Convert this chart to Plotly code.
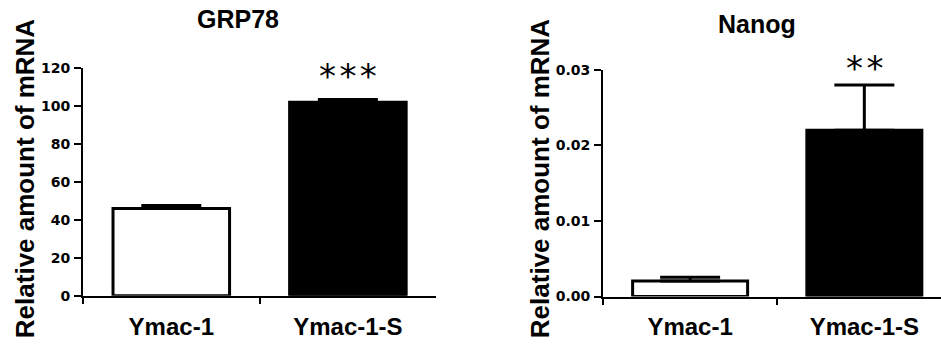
import plotly.graph_objects as go

categories = ["Ymac-1", "Ymac-1-S"]

grp78_values = [45.9, 101.8]
grp78_errors = [1.6, 1.4]

nanog_values = [0.00205, 0.0220]
nanog_errors = [0.00050, 0.0060]

grp78_ticks = [0, 20, 40, 60, 80, 100, 120]
nanog_ticks = [0.00, 0.01, 0.02, 0.03]

titles = ["GRP78", "Nanog"]
ytitle = "Relative amount of mRNA"
sig_labels = ["*\u200a*\u200a*", "*\u200a*"]
sig_y = [115.5, 0.0303]

W, H = 941, 345
# the captured page comes out slightly squeezed vertically; compensate
VSCALE = 0.975
BAR_COLORS = ["white", "black"]
ARIAL = "Liberation Sans, Arial, sans-serif"
LABEL_FONT = dict(family=ARIAL, size=24, color="black", weight="bold")
TICK_FONT = dict(family="DejaVu Sans, sans-serif", size=14, color="black", weight="bold")


def px_x(p):
    return p / W


def px_y(p):
    return 1 - (p / VSCALE) / H


fig = go.Figure()

fig.add_trace(go.Bar(
    x=categories, y=grp78_values, xaxis="x", yaxis="y",
    width=0.66,
    marker=dict(color=BAR_COLORS, line=dict(color="black", width=3)),
    error_y=dict(type="data", symmetric=False, array=grp78_errors,
                 arrayminus=[0, 0], color="black", thickness=3, width=30),
    showlegend=False, cliponaxis=False,
))
fig.add_trace(go.Bar(
    x=categories, y=nanog_values, xaxis="x2", yaxis="y2",
    width=0.66,
    marker=dict(color=BAR_COLORS, line=dict(color="black", width=3)),
    error_y=dict(type="data", symmetric=False, array=nanog_errors,
                 arrayminus=[0, 0], color="black", thickness=3, width=30),
    showlegend=False, cliponaxis=False,
))

common_x = dict(
    type="category", tickson="boundaries", ticks="outside", ticklen=6,
    tickwidth=2, tickcolor="black", showline=True, linewidth=2,
    linecolor="black", showgrid=False, zeroline=False, tickfont=LABEL_FONT,
    ticklabelstandoff=8, fixedrange=True,
)
common_y = dict(
    ticks="outside", ticklen=7, tickwidth=2, tickcolor="black",
    showline=True, linewidth=2, linecolor="black", showgrid=False,
    zeroline=False, tickfont=TICK_FONT, fixedrange=True, ticklabelstandoff=1,
)

fig.update_layout(
    width=W, height=H,
    margin=dict(l=0, r=0, t=0, b=0),
    paper_bgcolor="white", plot_bgcolor="white",
    xaxis=dict(common_x, domain=[px_x(83), px_x(436)], range=[-0.5, 1.499],
               anchor="y"),
    yaxis=dict(common_y, domain=[px_y(294.3), px_y(61)], range=[0, 120],
               tickvals=grp78_ticks, anchor="x"),
    xaxis2=dict(common_x, domain=[px_x(603), 1.0], range=[-0.5, 1.44],
                anchor="y2"),
    yaxis2=dict(common_y, domain=[px_y(295), px_y(63.3)], range=[0, 0.03],
                tickvals=nanog_ticks, tickformat=".2f", anchor="x2"),
)

TITLE_FONT = dict(family=ARIAL, size=25, color="black", weight="bold")
YT_FONT = dict(family=ARIAL, size=26, color="black", weight="bold")
SIG_FONT = dict(family="DejaVu Sans, sans-serif", size=34, color="black")

annotations = [
    dict(text=titles[0], x=px_x(238), y=px_y(11), xref="paper", yref="paper",
         showarrow=False, xanchor="center", yanchor="middle", font=TITLE_FONT),
    dict(text=titles[1], x=px_x(757), y=px_y(16.5), xref="paper", yref="paper",
         showarrow=False, xanchor="center", yanchor="middle", font=TITLE_FONT),
    dict(text=ytitle, x=px_x(25), y=px_y(175), xref="paper", yref="paper",
         showarrow=False, textangle=-90, xanchor="center", yanchor="middle",
         font=YT_FONT),
    dict(text=ytitle, x=px_x(540), y=px_y(175), xref="paper", yref="paper",
         showarrow=False, textangle=-90, xanchor="center", yanchor="middle",
         font=YT_FONT),
    dict(text=sig_labels[0], x=categories[1], y=sig_y[0], xref="x", yref="y",
         showarrow=False, xanchor="center", yanchor="middle", font=SIG_FONT),
    # anchored at the top of the axis range (annotations outside the range are hidden),
    # shifted up to the level
    dict(text=sig_labels[1], x=categories[1], y=nanog_ticks[-1], xref="x2", yref="y2",
         yshift=(sig_y[1] - nanog_ticks[-1]) / 0.03 * 231.7,
         showarrow=False, xanchor="center", yanchor="middle", font=SIG_FONT),
]
fig.update_layout(annotations=annotations)

PAGE_FIX = (
    "var s=document.createElement('style');"
    "s.textContent='html,body{margin:0;padding:0;overflow:hidden;height:345px}"
    ".svg-container{line-height:0;font-size:0}svg.main-svg{display:block}';"
    "document.head.appendChild(s);"
)

fig.write_html("out.html", config={"displayModeBar": False}, post_script=PAGE_FIX)
